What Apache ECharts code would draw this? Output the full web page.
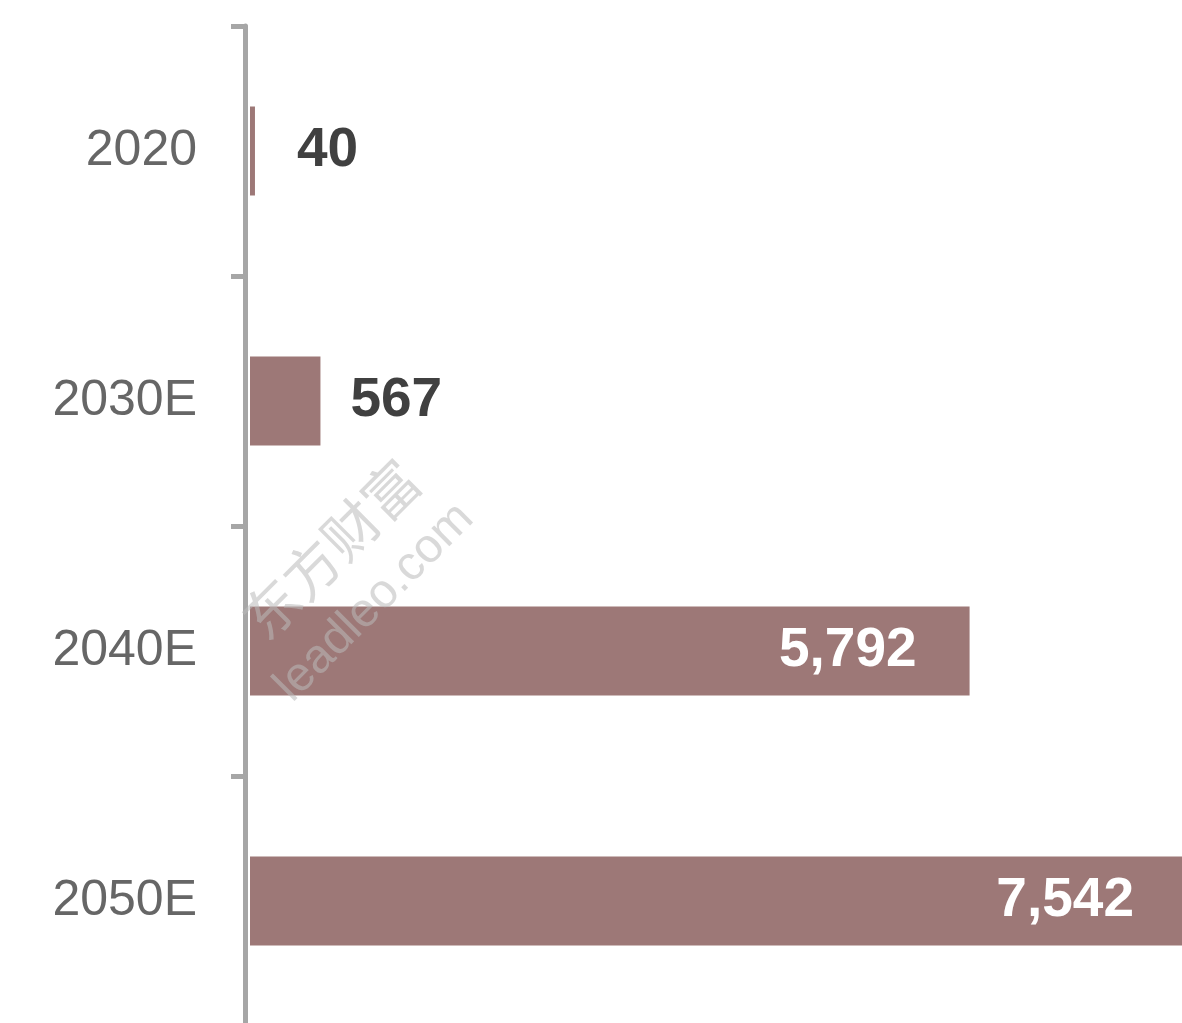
<!DOCTYPE html>
<html>
<head>
<meta charset="utf-8">
<style>
  html, body { margin: 0; padding: 0; background: #ffffff; overflow: hidden; }
  #chart { width: 1182px; height: 1023px; }
</style>
<script src="https://cdn.jsdelivr.net/npm/echarts@6/dist/echarts.min.js"></script>
</head>
<body>
<div id="chart"></div>
<script>
// Years on the category axis, top to bottom
const years = ['2020', '2030E', '2040E', '2050E'];
// Values per year
const values = [40, 567, 5792, 7542];
// Values at or below this are labelled outside the bar
const insideThreshold = 1000;

const barColor = '#9d7877';
const axisColor = '#a6a6a6';

const fmt = v => v.toLocaleString('en-US');

const seriesData = values.map((v, i) => {
  const inside = v > insideThreshold;
  return {
    value: v,
    label: inside
      ? { position: 'insideRight', distance: 53, color: '#ffffff' }
      : { position: 'right', distance: i === 0 ? 42 : 30, color: '#404040' }
  };
});

const chart = echarts.init(document.getElementById('chart'), null, { renderer: 'canvas' });

chart.setOption({
  animation: false,
  backgroundColor: '#ffffff',
  grid: {
    left: 250, right: -5, top: 26, bottom: -3,
    containLabel: false,
    outerBoundsMode: 'none'
  },
  xAxis: {
    type: 'value',
    min: 0,
    max: 7542,
    show: false
  },
  yAxis: {
    type: 'category',
    data: years,
    inverse: true,
    offset: 5,
    axisLine: { show: true, onZero: false, lineStyle: { color: axisColor, width: 5 } },
    axisTick: { show: true, length: 14, lineStyle: { color: axisColor, width: 5 } },
    axisLabel: {
      margin: 48,
      fontFamily: 'Liberation Sans, Arial, sans-serif',
      fontSize: 50,
      color: '#666666'
    }
  },
  series: [{
    type: 'bar',
    data: seriesData,
    barWidth: 89,
    itemStyle: { color: barColor },
    label: {
      show: true,
      fontFamily: 'Liberation Sans, Arial, sans-serif',
      fontSize: 55,
      fontWeight: 'bold',
      formatter: p => fmt(p.value)
    }
  }],
  graphic: [
    {
      type: 'text',
      left: 232, top: 450,
      rotation: Math.PI / 4,
      style: {
        text: '东方财富',
        font: '56px "Noto Sans CJK SC", sans-serif',
        fill: 'rgba(185,185,185,0.55)'
      },
      z: 100
    },
    {
      type: 'text',
      left: 266, top: 494,
      rotation: Math.PI / 4,
      style: {
        text: 'leadleo.com',
        font: '48px "Liberation Sans", sans-serif',
        fill: 'rgba(185,185,185,0.55)'
      },
      z: 100
    }
  ]
});
</script>
</body>
</html>
